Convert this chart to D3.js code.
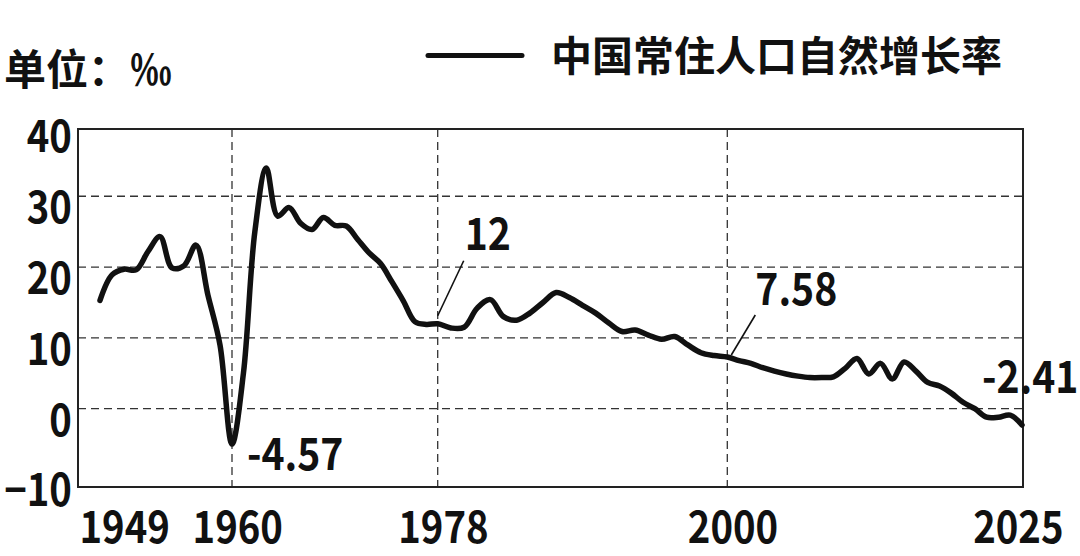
<!DOCTYPE html>
<html>
<head>
<meta charset="utf-8">
<script src="https://cdn.jsdelivr.net/npm/d3@7"></script>
<style>
    html, body { margin: 0; padding: 0; background: #fff; }
    svg { display: block; font-family: "Noto Sans CJK SC", "Noto Sans", sans-serif; }
</style>
</head>
<body>
<svg width="1080" height="556"></svg>
<script>
// natural growth rate of resident population, per mille
var years = [1949, 1950, 1951, 1952, 1953, 1954, 1955, 1956, 1957, 1958, 1959,
    1960, 1961, 1962, 1963, 1964, 1965, 1966, 1967, 1968, 1969,
    1970, 1971, 1972, 1973, 1974, 1975, 1976, 1977, 1978, 1979,
    1980, 1981, 1982, 1983, 1984, 1985, 1986, 1987, 1988, 1989,
    1990, 1991, 1992, 1993, 1994, 1995, 1996, 1997, 1998, 1999,
    2000, 2001, 2002, 2003, 2004, 2005, 2006, 2007, 2008, 2009,
    2010, 2011, 2012, 2013, 2014, 2015, 2016, 2017, 2018, 2019,
    2020, 2021, 2022, 2023, 2024, 2025];
var rates = [15.3, 18.9, 19.7, 19.6, 22.2, 24.3, 19.9, 20.2, 23.1, 16.0, 9.0,
    -5.0, 5.0, 25.0, 34.0, 27.2, 28.4, 26.2, 25.3, 27.0, 25.9,
    25.8, 23.9, 22.0, 20.5, 17.9, 15.2, 12.3, 11.9, 12.0, 11.4,
    11.5, 14.2, 15.4, 13.0, 12.5, 13.5, 15.0, 16.4, 15.7, 14.6,
    13.5, 12.1, 10.9, 11.1, 10.4, 9.8, 10.2, 9.0, 7.9, 7.5,
    7.3, 6.8, 6.4, 5.8, 5.3, 4.9, 4.6, 4.4, 4.4, 4.5,
    5.7, 7.1, 4.9, 6.4, 4.2, 6.6, 5.3, 3.7, 3.2, 2.2,
    0.9, 0.0, -1.2, -1.2, -0.9, -2.3];

// axis ticks
var xTicks = [1949, 1960, 1978, 2000, 2025];
var xGridYears = [1960, 1978, 2000];
var yTicks = [40, 30, 20, 10, 0, -10];
var yGridValues = [30, 20, 10, 0];

// labelled points
var noteYears = [1960, 1978, 2000, 2025];
var noteValues = [-4.57, 12, 7.58, -2.41];
var noteLabels = ['-4.57', '12', '7.58', '-2.41'];

var unitText = '单位：‰';
var seriesName = '中国常住人口自然增长率';

var data = years.map(function(y, i) { return { year: y, rate: rates[i] }; });

// layout
var frame = { left: 78, right: 1023, top: 129, bottom: 487 };
var svg = d3.select('svg');
var ink = '#111';
var numFont = '"Noto Sans CJK SC", sans-serif';
var squeeze = 0.87; // the picture's digits are narrower than the font's

// the picture's year axis is not evenly spaced, so map each labelled year to its spot
var xScale = d3.scaleLinear()
    .domain(xTicks)
    .range([100, 232, 437.7, 727.3, 1022]);

var yScale = d3.scaleLinear()
    .domain([-11.06, 39.5])
    .range([frame.bottom, frame.top]);

svg.append('rect')
    .attr('width', 1080)
    .attr('height', 556)
    .attr('fill', '#fff');

// dashed grid
var grid = svg.append('g')
    .attr('stroke', '#333')
    .attr('stroke-width', 1.3)
    .attr('stroke-dasharray', '8,5');

grid.selectAll('line.h')
    .data(yGridValues)
    .enter().append('line')
    .attr('class', 'h')
    .attr('x1', frame.left)
    .attr('x2', frame.right)
    .attr('y1', function(d) { return yScale(d); })
    .attr('y2', function(d) { return yScale(d); });

grid.selectAll('line.v')
    .data(xGridYears)
    .enter().append('line')
    .attr('class', 'v')
    .attr('x1', function(d) { return xScale(d); })
    .attr('x2', function(d) { return xScale(d); })
    .attr('y1', frame.top)
    .attr('y2', frame.bottom);

// plot frame
svg.append('rect')
    .attr('x', frame.left)
    .attr('y', frame.top)
    .attr('width', frame.right - frame.left)
    .attr('height', frame.bottom - frame.top)
    .attr('fill', 'none')
    .attr('stroke', '#222')
    .attr('stroke-width', 2);

// y axis labels
var yAxis = svg.append('g')
    .attr('transform', 'translate(' + frame.left + ',0)')
    .call(d3.axisLeft(yScale).tickValues(yTicks).tickSize(0).tickPadding(7));
yAxis.select('.domain').remove();
yAxis.selectAll('text')
    .attr('dy', '0.6em')
    .attr('fill', ink)
    .attr('transform', 'scale(' + squeeze + ',1)')
    .style('font-family', numFont)
    .style('font-size', '44px')
    .style('font-weight', 700);

// x axis labels
var xAxis = svg.append('g')
    .attr('transform', 'translate(0,' + frame.bottom + ')')
    .call(d3.axisBottom(xScale).tickValues(xTicks).tickFormat(d3.format('d')).tickSize(0).tickPadding(24));
xAxis.select('.domain').remove();
xAxis.selectAll('text')
    .attr('dy', '0.72em')
    .attr('dx', 6)
    .attr('fill', ink)
    .attr('transform', 'scale(' + squeeze + ',1)')
    .style('font-family', numFont)
    .style('font-size', '44px')
    .style('font-weight', 700);

// first and last year labels sit against the frame's edges
var firstYear = xTicks[0];
var lastYear = xTicks[xTicks.length - 1];

xAxis.selectAll('.tick').filter(function(d) { return d === firstYear; })
    .select('text')
    .attr('text-anchor', 'start')
    .attr('dx', (frame.left - xScale(firstYear) + 1) / squeeze);

xAxis.selectAll('.tick').filter(function(d) { return d === lastYear; })
    .select('text')
    .attr('text-anchor', 'end')
    .attr('dx', (frame.right + 40 - xScale(lastYear)) / squeeze);

// the line
var line = d3.line()
    .x(function(d) { return xScale(d.year); })
    .y(function(d) { return yScale(d.rate); })
    .curve(d3.curveCatmullRom.alpha(0.5));

svg.append('path')
    .datum(data)
    .attr('fill', 'none')
    .attr('stroke', ink)
    .attr('stroke-width', 5.5)
    .attr('stroke-linejoin', 'round')
    .attr('stroke-linecap', 'round')
    .attr('d', line);

// annotations: text offset and optional leader line, relative to the point
var noteStyle = [
    { dx: 15, dy: 29, leader: null },
    { dx: 27, dy: -74, leader: [0, -8, 26, -63] },
    { dx: 28, dy: -50, leader: [4, 0, 28, -40] },
    { dx: -40, dy: -33, leader: null }
];

noteYears.forEach(function(year, i) {
    var px = xScale(year);
    var py = yScale(noteValues[i]);
    var s = noteStyle[i];

    if (s.leader) {
        svg.append('line')
            .attr('x1', px + s.leader[0])
            .attr('y1', py + s.leader[1])
            .attr('x2', px + s.leader[2])
            .attr('y2', py + s.leader[3])
            .attr('stroke', ink)
            .attr('stroke-width', 1.6);
    }

    svg.append('text')
        .attr('transform', 'translate(' + (px + s.dx) + ',' + (py + s.dy) + ') scale(' + squeeze + ',1)')
        .attr('fill', ink)
        .style('font-family', numFont)
        .style('font-size', '45px')
        .style('font-weight', 700)
        .text(noteLabels[i]);
});

// unit and legend
svg.append('text')
    .attr('x', 4)
    .attr('y', 66)
    .attr('dominant-baseline', 'central')
    .attr('fill', ink)
    .style('font-size', '42px')
    .style('font-weight', 700)
    .text(unitText);

svg.append('line')
    .attr('x1', 428)
    .attr('x2', 522)
    .attr('y1', 55.5)
    .attr('y2', 55.5)
    .attr('stroke', ink)
    .attr('stroke-width', 5)
    .attr('stroke-linecap', 'round');

svg.append('text')
    .attr('x', 551)
    .attr('y', 53)
    .attr('dominant-baseline', 'central')
    .attr('fill', ink)
    .style('font-size', '41px')
    .style('font-weight', 700)
    .text(seriesName);
</script>
</body>
</html>
